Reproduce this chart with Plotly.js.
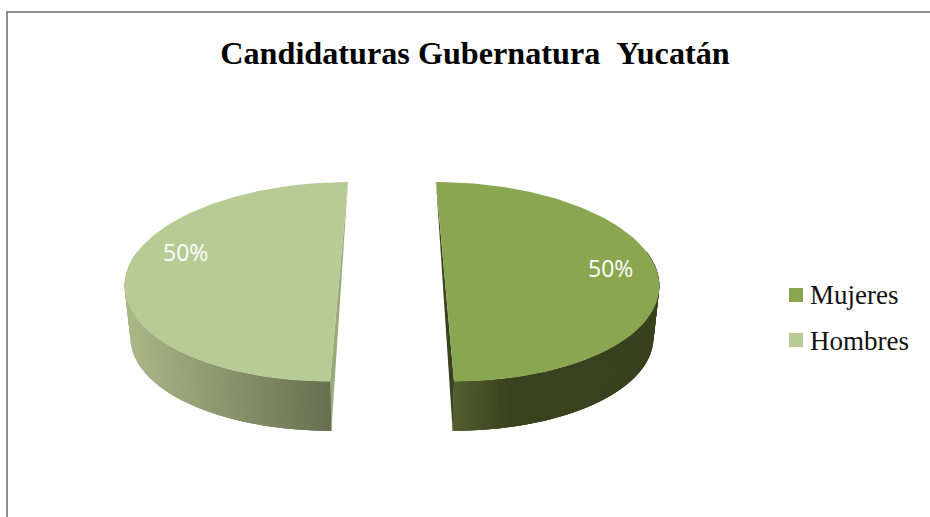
<!DOCTYPE html>
<html><head><meta charset="utf-8">
<script src="https://cdn.plot.ly/plotly-3.0.1.min.js"></script>
<style>html,body{margin:0;padding:0;background:#fff}#c{width:930px;height:517px}</style>
</head><body><div id="c"></div>
<script>
// Data
var categories = ['Mujeres', 'Hombres'];
var values = [50, 50];
var topColors = ['#8ba650', '#b7cb94'];
var faceColors = ['#3a421f', '#9aab7a'];
var titleText = 'Candidaturas Gubernatura \u00a0Yucatán';

// 3D pie projection (pixel-space axes)
var CX = 392, CY = 264.8, R = 211, B = 96.8, PERSP = 0.17, PULL = 51.5;
var BASE_SCALE = 0.978, BASE_DROP = 51.9;
function topPoint(theta, r, mid) {
  var X = r * R * Math.sin(theta) + PULL * Math.sin(mid);
  var Y = r * Math.cos(theta) + (PULL / R) * Math.cos(mid);
  var s = 1 / (1 + PERSP * Y);
  return [CX + X * s, CY - B * Y * s];
}
function basePoint(p) {
  return [CX + (p[0] - CX) * BASE_SCALE, CY + (p[1] - CY) * BASE_SCALE + BASE_DROP];
}
function mix(a, b, t) {
  t = Math.max(0, Math.min(1, t));
  return 'rgb(' + a.map(function (v, i) { return Math.round(v + (b[i] - v) * t); }).join(',') + ')';
}
var wallShade = [
  function (x) { return mix([85, 94, 48], [57, 65, 30], (x - 453) / 60); },
  function (x) { return mix([102, 111, 80], [170, 182, 134], (332 - x) / 202); }
];
function poly(pts, color) {
  return { type: 'scatter', mode: 'lines', x: pts.map(function (p) { return p[0]; }), y: pts.map(function (p) { return p[1]; }),
    fill: 'toself', fillcolor: color, line: { color: color, width: 0 }, hoverinfo: 'skip', showlegend: false };
}
var total = values.reduce(function (a, b) { return a + b; }, 0);
var traces = [], topFaces = [], start = 0;
values.forEach(function (v, i) {
  var sweep = v / total * 2 * Math.PI, a0 = start, a1 = start + sweep, mid = (a0 + a1) / 2;
  var centre = topPoint(0, 0, mid);
  // cut face sliver, far top vertex to near base vertex
  var isRight = Math.sin(mid) > 0;
  var far = topPoint(isRight ? a0 : a1, 1, mid), near = topPoint(isRight ? a1 : a0, 1, mid);
  traces.push(poly([far, near, basePoint(near)], faceColors[i]));
  // outer wall strips, painted from the flat cut outwards and overlapping so no seam shows
  var N = 320, step = sweep / N;
  var order = [];
  for (var k = 0; k < N; k++) order.push(isRight ? k : N - 1 - k);
  order.forEach(function (k) {
    var t0 = a0 + step * k, t1 = t0 + step, tc = t0 + step / 2;
    if (Math.cos(tc) > 0.15) return;
    var ext = isRight ? Math.min(a1, t1 + 2 * step) : t1;
    var st = isRight ? t0 : Math.max(a0, t0 - 2 * step);
    var arc = [], back = [];
    for (var q = 0; q <= 3; q++) {
      var p = topPoint(st + (ext - st) * q / 3, 1, mid);
      arc.push(p); back.unshift(basePoint(p));
    }
    traces.push(poly(arc.concat(back), wallShade[i](topPoint(tc, 1, mid)[0])));
  });
  // top face
  var pts = [centre];
  for (var m = 0; m <= 120; m++) pts.push(topPoint(a0 + sweep * m / 120, 1, mid));
  topFaces.push(poly(pts, topColors[i]));
  start = a1;
});
traces = traces.concat(topFaces);
// legend, drawn on the same axes
traces.push({ type: 'scatter', mode: 'markers', x: [796, 796], y: [295, 340],
  marker: { symbol: 'square', size: 14, color: topColors }, hoverinfo: 'skip', showlegend: false });
traces.push({ type: 'scatter', mode: 'text', x: [810, 810], y: [297, 343], text: categories,
  textposition: 'middle right', textfont: { family: 'Liberation Serif', size: 27, color: '#111' },
  hoverinfo: 'skip', showlegend: false });

var pct = values.map(function (v) { return Math.round(v / total * 100) + '%'; });
var layout = {
  width: 930, height: 517, margin: { l: 0, r: 0, t: 0, b: 0 }, showlegend: false,
  paper_bgcolor: '#fff', plot_bgcolor: '#fff',
  title: { text: titleText, font: { family: 'Liberation Serif', size: 32.2, color: '#000', weight: 700 },
    x: 475 / 930, xanchor: 'center', y: 1 - 53 / 517, yanchor: 'middle' },
  xaxis: { range: [0, 930], visible: false, fixedrange: true },
  yaxis: { range: [517, 0], visible: false, fixedrange: true },
  annotations: [
    { x: 610, y: 268, text: pct[0], showarrow: false, font: { family: 'Open Sans', size: 23, color: '#fff' } },
    { x: 185, y: 252, text: pct[1], showarrow: false, font: { family: 'Open Sans', size: 23, color: '#fff' } }
  ],
  shapes: [
    { type: 'line', xref: 'x', yref: 'y', x0: 6, x1: 930, y0: 12, y1: 12, line: { color: '#8f8f8f', width: 2 } },
    { type: 'line', xref: 'x', yref: 'y', x0: 7, x1: 7, y0: 11, y1: 517, line: { color: '#8f8f8f', width: 2 } }
  ]
};
Plotly.newPlot('c', traces, layout, { displayModeBar: false, staticPlot: true });
</script></body></html>
